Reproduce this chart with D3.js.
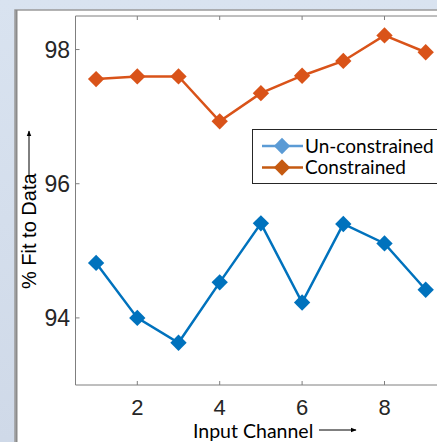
<!DOCTYPE html>
<html>
<head>
<meta charset="utf-8">
<title>% Fit to Data by Input Channel</title>
<script src="https://cdn.jsdelivr.net/npm/d3@7/dist/d3.min.js"></script>
<style>
  body { margin: 0; background: #d5dfed; }
  svg { display: block; }
</style>
</head>
<body>
<svg width="437" height="442"></svg>
<script>
// data
const channels = [1, 2, 3, 4, 5, 6, 7, 8, 9];
const unconstrained = [94.82, 94.00, 93.63, 94.53, 95.41, 94.23, 95.40, 95.11, 94.42];
const constrained = [97.56, 97.60, 97.60, 96.93, 97.35, 97.61, 97.83, 98.21, 97.96];
const xTicks = [2, 4, 6, 8];
const yTicks = [94, 96, 98];
const seriesNames = ["Un-constrained", "Constrained"];

const svg = d3.select("svg");

// light backdrop + white figure panel
const bg = svg.append("defs").append("linearGradient")
    .attr("id", "bg").attr("x1", 0).attr("x2", 0).attr("y1", 0).attr("y2", 1);
bg.append("stop").attr("offset", 0).attr("stop-color", "#d9e3f0");
bg.append("stop").attr("offset", 1).attr("stop-color", "#cfd9e8");
svg.append("rect").attr("width", 437).attr("height", 442).attr("fill", "url(#bg)");
svg.append("rect").attr("x", 15).attr("y", 10).attr("width", 440).attr("height", 450)
    .attr("fill", "white").attr("stroke", "#9a9a9a").attr("stroke-width", 1.5);
svg.append("line").attr("x1", 16.5).attr("x2", 16.5).attr("y1", 10).attr("y2", 442)
    .attr("stroke", "#8a8a8a").attr("stroke-width", 2);

const x = d3.scaleLinear().domain([0.5, 9.5]).range([75.5, 446.3]);
const y = d3.scaleLinear().domain([93, 98.5]).range([385, 16]);
const axisColor = "#7f7f7f";

// axes box (left, bottom, top)
const g = svg.append("g");
g.append("path")
    .attr("d", `M${x(9.5)},${y(98.5)}H${x(0.5)}V${y(93)}H${x(9.5)}`)
    .attr("fill", "none").attr("stroke", axisColor).attr("stroke-width", 1);

// ticks
g.selectAll(".xt").data(xTicks).enter().append("path")
    .attr("d", d => `M${x(d)},${y(93)}v-4M${x(d)},${y(98.5)}v4`)
    .attr("stroke", axisColor);
g.selectAll(".yt").data(yTicks).enter().append("path")
    .attr("d", d => `M${x(0.5)},${y(d)}h4`)
    .attr("stroke", axisColor);

g.selectAll(".xl").data(xTicks).enter().append("text")
    .attr("x", d => x(d)).attr("y", 415)
    .attr("text-anchor", "middle")
    .attr("font-family", "Liberation Sans, Arial, sans-serif")
    .attr("font-size", 22).attr("fill", "#262626")
    .text(d => d);
g.selectAll(".yl").data(yTicks).enter().append("text")
    .attr("x", 70).attr("y", d => y(d) + 8)
    .attr("text-anchor", "end")
    .attr("font-family", "Liberation Sans, Arial, sans-serif")
    .attr("font-size", 23).attr("fill", "#262626")
    .text(d => d);

// axis titles with arrows
const arrow = svg.select("defs").append("marker")
    .attr("id", "arr").attr("viewBox", "0 0 10 10").attr("refX", 9).attr("refY", 5)
    .attr("markerWidth", 6).attr("markerHeight", 6).attr("orient", "auto");
arrow.append("path").attr("d", "M0,1L10,5L0,9Z").attr("fill", "black");

svg.append("text")
    .attr("transform", "translate(36,289) rotate(-90)")
    .attr("font-family", "Liberation Sans, Arial, sans-serif")
    .attr("font-size", 20).attr("fill", "black")
    .text("% Fit to Data");
svg.append("line").attr("x1", 29).attr("x2", 29).attr("y1", 175).attr("y2", 131)
    .attr("stroke", "black").attr("stroke-width", 1).attr("marker-end", "url(#arr)");

svg.append("text")
    .attr("x", 193).attr("y", 438)
    .attr("font-family", "Lato, sans-serif")
    .attr("font-size", 19.5).attr("fill", "black")
    .text("Input Channel");
svg.append("line").attr("x1", 319).attr("x2", 356).attr("y1", 430).attr("y2", 430)
    .attr("stroke", "black").attr("stroke-width", 1).attr("marker-end", "url(#arr)");

// series
const series = [
  { name: seriesNames[0], values: unconstrained, color: "#0072bd", legendColor: "#5b9bd5" },
  { name: seriesNames[1], values: constrained, color: "#d95319", legendColor: "#c55a11" }
];
const line = d3.line().x(d => x(d[0])).y(d => y(d[1]));
const diamond = d3.symbol().type(d3.symbolDiamond2).size(170);

series.forEach(s => {
  const pts = channels.map((c, i) => [c, s.values[i]]);
  svg.append("path").datum(pts)
      .attr("d", line)
      .attr("fill", "none").attr("stroke", s.color).attr("stroke-width", 2.5);
  svg.selectAll(null).data(pts).enter().append("path")
      .attr("d", diamond)
      .attr("transform", d => `translate(${x(d[0])},${y(d[1])})`)
      .attr("fill", s.color);
});

// legend
const lg = svg.append("g");
lg.append("rect").attr("x", 252.5).attr("y", 129.5).attr("width", 200).attr("height", 54)
    .attr("fill", "white").attr("stroke", "#262626").attr("stroke-width", 1);
series.forEach((s, i) => {
  const cy = 146 + i * 21.5;
  lg.append("line").attr("x1", 262).attr("x2", 303).attr("y1", cy).attr("y2", cy)
      .attr("stroke", s.legendColor).attr("stroke-width", 2.5);
  lg.append("path").attr("d", diamond)
      .attr("transform", `translate(282,${cy})`).attr("fill", s.legendColor);
  lg.append("text").attr("x", 305).attr("y", cy + 6.5)
      .attr("font-family", "Lato, sans-serif").attr("font-size", 19).attr("fill", "black")
      .text(s.name);
});
</script>
</body>
</html>
